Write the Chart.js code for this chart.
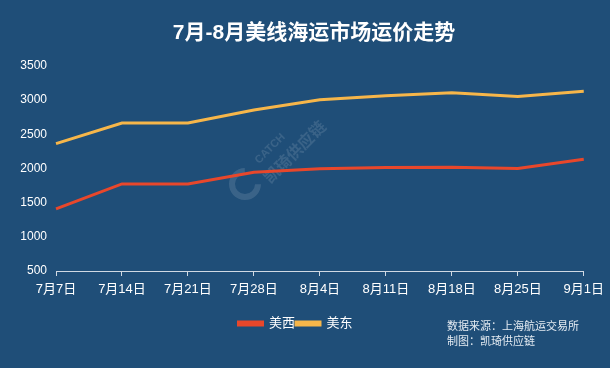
<!DOCTYPE html>
<html>
<head>
<meta charset="utf-8">
<script src="https://cdn.jsdelivr.net/npm/chart.js@4/dist/chart.umd.min.js"></script>
<style>
html,body{margin:0;padding:0;background:#1f4e78;}
#wrap{width:610px;height:368px;position:relative;}
</style>
</head>
<body>
<div id="wrap"><canvas id="c" width="610" height="368"></canvas></div>
<script>
const categories = ['7月7日','7月14日','7月21日','7月28日','8月4日','8月11日','8月18日','8月25日','9月1日'];
const westValues = [1410, 1775, 1775, 1945, 1995, 2015, 2020, 2000, 2135];
const eastValues = [2365, 2665, 2665, 2855, 3005, 3065, 3110, 3055, 3130];
const seriesNames = ['美西', '美东'];
const yTicks = [500, 1000, 1500, 2000, 2500, 3000, 3500];
const titleText = '7月-8月美线海运市场运价走势';
const sourceLines = ['数据来源：上海航运交易所', '制图：凯琦供应链'];
const watermark = ['CATCH', '凯琦供应链'];

const FONT = '"Liberation Sans", "Noto Sans CJK SC", sans-serif';

const bgPlugin = {
  id: 'bg',
  beforeDraw(chart) {
    const ctx = chart.ctx;
    ctx.save();
    ctx.fillStyle = '#1f4e78';
    ctx.fillRect(0, 0, chart.width, chart.height);
    ctx.globalAlpha = 0.12;
    ctx.strokeStyle = '#ffffff';
    ctx.lineWidth = 6;
    ctx.beginPath();
    ctx.arc(245, 184, 13, -Math.PI / 4 + 0.8, -Math.PI / 4 + 2 * Math.PI - 0.8);
    ctx.stroke();
    ctx.translate(280, 160);
    ctx.rotate(-Math.PI / 4);
    ctx.fillStyle = '#ffffff';
    ctx.font = 'bold 11px ' + FONT;
    ctx.textAlign = 'center';
    ctx.textBaseline = 'middle';
    ctx.fillText(watermark[0], 1, -15);
    ctx.font = 'bold 16px ' + FONT;
    ctx.fillText(watermark[1], 16, 6);
    ctx.restore();
  },
  afterDraw(chart) {
    const ctx = chart.ctx;
    ctx.save();
    ctx.fillStyle = '#ffffff';
    ctx.font = 'bold 21px ' + FONT;
    ctx.textAlign = 'center';
    ctx.textBaseline = 'middle';
    ctx.fillText(titleText, 314, 33);
    ctx.fillStyle = '#e4ebf2';
    ctx.font = '11px ' + FONT;
    ctx.textAlign = 'left';
    ctx.fillText(sourceLines[0], 447, 327);
    ctx.fillText(sourceLines[1], 447, 342);
    ctx.restore();
  }
};

new Chart(document.getElementById('c'), {
  type: 'line',
  data: {
    labels: categories,
    datasets: [
      { label: seriesNames[0], data: westValues, borderColor: '#e8472b', backgroundColor: '#e8472b', borderWidth: 3, pointRadius: 0, tension: 0 },
      { label: seriesNames[1], data: eastValues, borderColor: '#f6b64a', backgroundColor: '#f6b64a', borderWidth: 3, pointRadius: 0, tension: 0 }
    ]
  },
  options: {
    responsive: false,
    animation: false,
    layout: { padding: { top: 66, right: 19, left: 0, bottom: 28 } },
    plugins: {
      title: { display: false },
      tooltip: { enabled: false },
      legend: {
        display: true,
        position: 'bottom',
        labels: {
          color: '#ffffff',
          font: { size: 13, family: FONT },
          boxWidth: 24,
          boxHeight: 3,
          padding: 1
        }
      }
    },
    scales: {
      x: {
        type: 'category',
        offset: false,
        afterFit(scale) { scale.height = 45; },
        grid: { display: true, drawOnChartArea: false, drawTicks: true, tickLength: 5, color: '#d0d9e3' },
        border: { display: true, color: '#d0d9e3', width: 1 },
        ticks: { color: '#ffffff', font: { size: 13, family: FONT }, maxRotation: 0, autoSkip: false, padding: 6 }
      },
      y: {
        min: 500,
        max: 3500,
        afterFit(scale) { scale.width = 56; },
        afterBuildTicks(scale) { scale.ticks = yTicks.map(v => ({ value: v })); },
        grid: { display: false },
        border: { display: false },
        ticks: { color: '#ffffff', font: { size: 12, family: FONT }, padding: 1, callback: v => String(v) }
      }
    }
  },
  plugins: [bgPlugin]
});
</script>
</body>
</html>
